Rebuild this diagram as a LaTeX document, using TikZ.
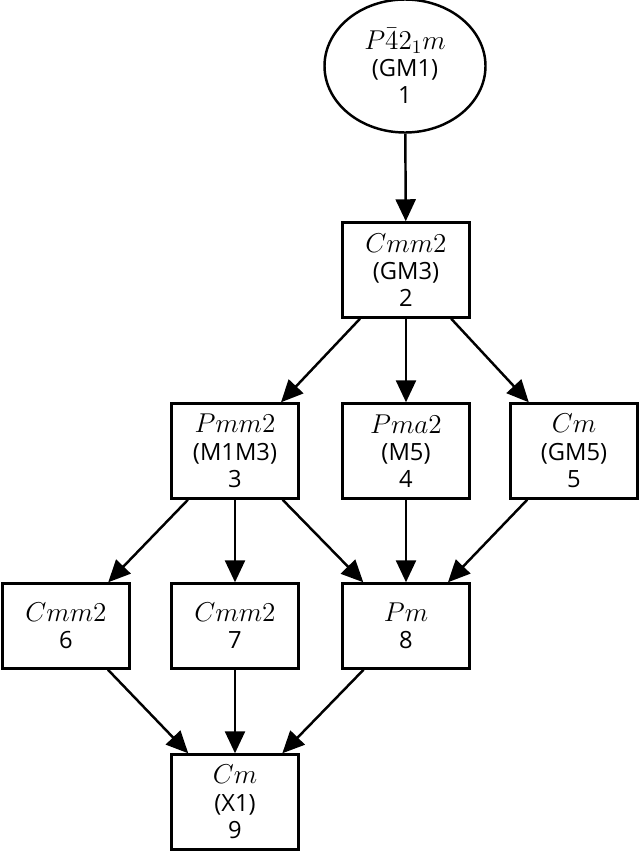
\documentclass[tikz,border=0pt]{standalone}
\usepackage{fix-cm}
\usepackage{amsmath}
\usepackage{fontspec}
\newfontfamily\grpfont{Open Sans}
\usepackage{tikz}
\usetikzlibrary{arrows.meta,shapes.geometric}
\newcommand{\sg}[1]{{\fontsize{15.5}{15.5}\selectfont$#1$}}

\begin{document}
\begin{tikzpicture}
    [x=1cm,y=1cm,
    grp/.style={draw,line width=1.4pt,align=center,inner sep=0pt,
        font=\fontsize{13.5}{15.5}\selectfont\grpfont},
    box/.style={grp,rectangle,minimum width=2.54cm,minimum height=1.9cm},
    lowbox/.style={box,minimum height=1.7cm},
    sub/.style={-{Triangle[length=4.4mm,width=4mm]},line width=1.4pt}]
    \useasboundingbox (0,0) rectangle (12.8,-17.06);
    % top group
    \node[grp,ellipse,minimum width=3.22cm,minimum height=2.66cm] (n1) at (8.1,-1.32) {\sg{P\bar{4}2_1m}\\(GM1)\\1};
    \node[box] (n2) at (8.12,-5.4) {\sg{Cmm2}\\(GM3)\\2};
    % second level
    \node[box] (n3) at (4.7,-9.02) {\sg{Pmm2}\\(M1M3)\\3};
    \node[box] (n4) at (8.12,-9.02) {\sg{Pma2}\\(M5)\\4};
    \node[box] (n5) at (11.48,-9.02) {\sg{Cm}\\(GM5)\\5};
    % third level
    \node[lowbox] (n6) at (1.32,-12.52) {\sg{Cmm2}\\6};
    \node[lowbox] (n7) at (4.7,-12.52) {\sg{Cmm2}\\7};
    \node[lowbox] (n8) at (8.12,-12.52) {\sg{Pm}\\8};
    % bottom
    \node[box] (n9) at (4.7,-16.04) {\sg{Cm}\\(X1)\\9};
    \draw[sub] (n1) -- (n2);
    \draw[sub] (n2) -- (n3);
    \draw[sub] (n2) -- (n4);
    \draw[sub] (n2) -- (n5);
    \draw[sub] (n3) -- (n6);
    \draw[sub] (n3) -- (n7);
    \draw[sub] (n3) -- (n8);
    \draw[sub] (n4) -- (n8);
    \draw[sub] (n5) -- (n8);
    \draw[sub] (n6) -- (n9);
    \draw[sub] (n7) -- (n9);
    \draw[sub] (n8) -- (n9);
\end{tikzpicture}
\end{document}
